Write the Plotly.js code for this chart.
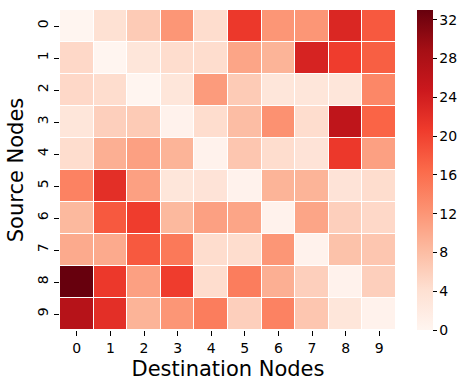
<!DOCTYPE html>
<html>
<head>
<meta charset="utf-8">
<script src="https://cdn.plot.ly/plotly-3.0.1.min.js"></script>
<style>html,body{margin:0;padding:0;background:#fff;}#chart{width:470px;height:390px;}</style>
</head>
<body>
<div id="chart"></div>
<script>
const destinationNodes = ['0','1','2','3','4','5','6','7','8','9'];
const sourceNodes = ['0','1','2','3','4','5','6','7','8','9'];
const row0 = [0, 4, 6.5, 12, 4.5, 21, 12, 12, 23, 18];
const row1 = [5, 0, 3, 4.5, 4.5, 10.5, 9, 23.5, 20.5, 17.5];
const row2 = [5, 4.5, 0, 3, 11.5, 6.5, 3, 3, 3, 13.5];
const row3 = [3, 6, 6.5, 0.5, 4.5, 8, 12.5, 4.5, 26, 17];
const row4 = [4.5, 9.5, 11, 9, 0.5, 7, 4.5, 3.5, 21, 11];
const row5 = [14, 22, 11, 3, 3.5, 0.5, 9, 9, 3.5, 4.5];
const row6 = [8.5, 18, 20.5, 8.5, 11, 10.5, 0.5, 10.5, 6, 5];
const row7 = [10, 10, 18, 15, 4.5, 4.5, 12, 0.5, 7.5, 7];
const row8 = [33, 21, 11, 20.5, 4.5, 14.5, 9.5, 6, 0.5, 6];
const row9 = [27, 22, 9, 12, 14.5, 6, 14, 7, 3, 0.5];
const colorbarTicks = [0, 4, 8, 12, 16, 20, 24, 28, 32];

const z = [row0,row1,row2,row3,row4,row5,row6,row7,row8,row9];
const reds = [
  [0,'#fff5f0'],[0.125,'#fee0d2'],[0.25,'#fcbba1'],[0.375,'#fc9272'],
  [0.5,'#fb6a4a'],[0.625,'#ef3b2c'],[0.75,'#cb181d'],[0.875,'#a50f15'],[1,'#67000d']
];
const font = {family:'DejaVu Sans, sans-serif', color:'#000'};
Plotly.newPlot('chart', [{
  type:'heatmap', z:z, x:destinationNodes, y:sourceNodes,
  colorscale:reds, zmin:0, zmax:33, xgap:1, ygap:1,
  colorbar:{
    x:417/470, xanchor:'left', xref:'container', xpad:0, ypad:0,
    thickness:16, len:1, lenmode:'fraction', y:0.5, yanchor:'middle',
    outlinewidth:0, tickvals:colorbarTicks, ticks:'outside', ticklen:4, tickcolor:'#000',
    tickfont:{...font, size:14}
  },
  hoverinfo:'none'
}], {
  width:470, height:390,
  margin:{l:60, r:74, t:10, b:60, autoexpand:false},
  paper_bgcolor:'#fff', plot_bgcolor:'#fff',
  font:font,
  xaxis:{
    type:'category', ticks:'outside', ticklen:5, tickcolor:'#000', showgrid:false, zeroline:false,
    tickfont:{...font, size:14},
    title:{text:'Destination Nodes', font:{...font, size:21}, standoff:6}
  },
  yaxis:{
    type:'category', autorange:'reversed', ticks:'outside', ticklen:5, tickcolor:'#000', showgrid:false, zeroline:false,
    tickangle:-90, tickfont:{...font, size:14},
    title:{text:'Source Nodes', font:{...font, size:21}, standoff:6}
  }
}, {staticPlot:true, displayModeBar:false});
</script>
</body>
</html>
